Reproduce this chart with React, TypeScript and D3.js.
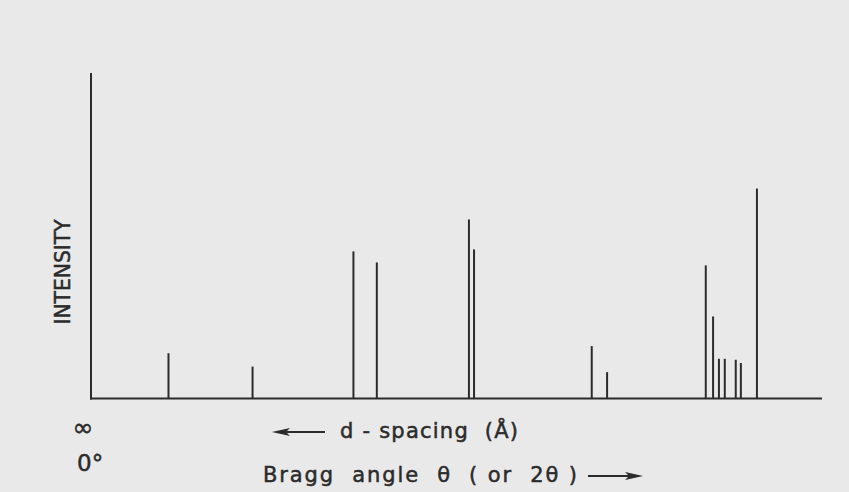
import React from 'react';
import * as d3 from 'd3';

// peak positions (2θ, arbitrary 0-100 scale) and relative intensities
const twoTheta = [10.6, 22.1, 35.9, 39.1, 51.7, 52.4, 68.5, 70.6, 84.1, 85.1, 85.9, 86.7, 88.2, 88.9, 91.1];
const intensity = [13.9, 9.8, 45.2, 41.8, 55.0, 45.8, 16.1, 8.1, 40.9, 25.2, 12.2, 12.2, 11.9, 10.9, 64.5];
const xLabels = ['d - spacing  (Å)', 'Bragg  angle  θ  ( or  2θ )'];
const originLabels = ['∞', '0°'];

const W = 849;
const H = 492;
const margin = { top: 73, right: 27, bottom: 93, left: 91 };
const ink = '#2b2b2b';
const font = '"DejaVu Sans", sans-serif';
const textStyle = { stroke: ink, strokeWidth: 0.5, whiteSpace: 'pre' } as React.CSSProperties;

export default function App() {
  const x = d3.scaleLinear().domain([0, 100]).range([margin.left, W - margin.right]);
  const y = d3.scaleLinear().domain([0, 100]).range([H - margin.bottom - 0.5, margin.top]);
  const base = y(0);
  const peaks = twoTheta.map((t, i) => ({ t, v: intensity[i] }));

  return (
    <svg width={W} height={H} viewBox={`0 0 ${W} ${H}`} style={{ position: 'absolute', left: 0, top: 0, background: '#e9e9e9' }}>
      <rect x={0} y={0} width={W} height={H} fill="#e9e9e9" />
      {/* axes */}
      <line x1={x(0)} x2={x(0)} y1={y(100)} y2={base + 1} stroke={ink} strokeWidth={2} />
      <line x1={x(0) - 1} x2={x(100)} y1={base} y2={base} stroke={ink} strokeWidth={2} />
      {/* peaks */}
      {peaks.map((d, i) => (
        <line key={i} x1={x(d.t)} x2={x(d.t)} y1={base} y2={y(d.v)} stroke={ink} strokeWidth={2} />
      ))}
      <text transform={`translate(70,272) rotate(-90)`} textAnchor="middle" fontFamily={font} fontSize={21}
        fill={ink} style={textStyle} textLength={105} lengthAdjust="spacingAndGlyphs">INTENSITY</text>
      {/* origin labels */}
      <text x={83} y={436} textAnchor="middle" fontFamily={font} fontSize={25} fill={ink} style={textStyle}>{originLabels[0]}</text>
      <text x={77} y={471} fontFamily={font} fontSize={23} fill={ink} style={textStyle}>{originLabels[1]}</text>
      {/* d-spacing label with left arrow */}
      <line x1={276} x2={325} y1={432} y2={432} stroke={ink} strokeWidth={2} />
      <path d="M272,432 L290,428 L286,432 L290,436 Z" fill={ink} />
      <text x={340} y={438} fontFamily={font} fontSize={21} fill={ink} style={textStyle}
        textLength={178} lengthAdjust="spacing">{xLabels[0]}</text>
      {/* Bragg angle label with right arrow */}
      <text x={263} y={482} fontFamily={font} fontSize={21} fill={ink} style={textStyle}
        textLength={314} lengthAdjust="spacing">{xLabels[1]}</text>
      <line x1={588} x2={639} y1={476} y2={476} stroke={ink} strokeWidth={2} />
      <path d="M643,476 L625,472 L629,476 L625,480 Z" fill={ink} />
    </svg>
  );
}
